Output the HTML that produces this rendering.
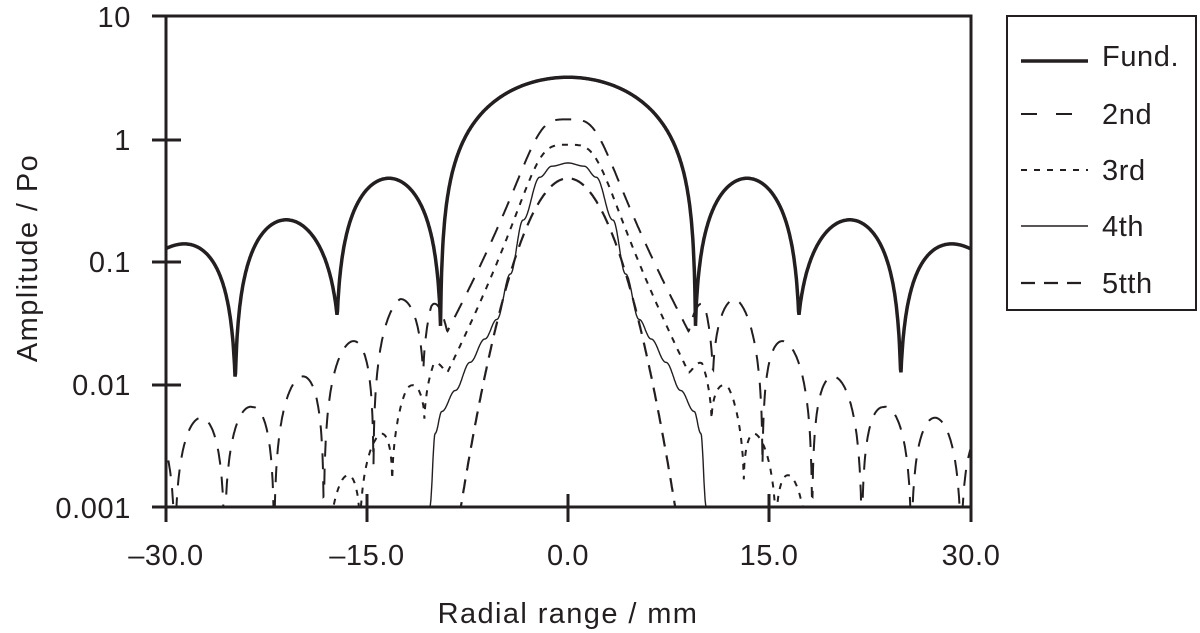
<!DOCTYPE html>
<html><head><meta charset="utf-8"><style>
html,body{margin:0;padding:0;background:#fff;overflow:hidden;width:1200px;height:633px;}
svg{display:block;font-family:"Liberation Sans",sans-serif;}
</style></head><body>
<svg id="s" width="1200" height="633" viewBox="0 0 1200 633" xmlns="http://www.w3.org/2000/svg">
<defs><clipPath id="c"><rect x="166" y="16" width="805" height="491"/></clipPath></defs>
<g stroke="#231f20" stroke-width="3" fill="none">
<path d="M152 16H971V507H166V16"/>
<path d="M152 140H181M152 262H181M152 385H181M152 507H181"/>
<path d="M166 494V522M367 494V522M568 494V522M769 494V522M971 494V522"/>
<rect x="1007" y="16" width="189" height="294" stroke-width="2"/>
<path d="M1021 61H1088" stroke-width="3.5"/>
<path d="M1021 114H1088" stroke-width="2" stroke-dasharray="16 19"/>
<path d="M1021 170H1088" stroke-width="2" stroke-dasharray="6 7"/>
<path d="M1021 226H1088" stroke-width="1.4"/>
<path d="M1021 283H1088" stroke-width="2.2" stroke-dasharray="14 9"/>
</g>
<g fill="#231f20" font-size="29" letter-spacing="0.6">
<text x="131" y="27" text-anchor="end">10</text>
<text x="131" y="150" text-anchor="end">1</text>
<text x="131" y="272" text-anchor="end">0.1</text>
<text x="131" y="395" text-anchor="end">0.01</text>
<text x="131" y="518" text-anchor="end">0.001</text>
<text x="166" y="565" text-anchor="middle">–30.0</text>
<text x="367" y="565" text-anchor="middle">–15.0</text>
<text x="568" y="565" text-anchor="middle">0.0</text>
<text x="769" y="565" text-anchor="middle">15.0</text>
<text x="971" y="565" text-anchor="middle">30.0</text>
<text x="568" y="623" text-anchor="middle" letter-spacing="1.4">Radial range / mm</text>
<text transform="translate(37,258) rotate(-90)" text-anchor="middle" letter-spacing="1.4">Amplitude / Po</text>
<g font-size="29">
<text x="1102" y="66">Fund.</text>
<text x="1102" y="124">2nd</text>
<text x="1102" y="180">3rd</text>
<text x="1102" y="236">4th</text>
<text x="1102" y="293">5tth</text>
</g>
</g>
<g id="curves" clip-path="url(#c)" fill="none" stroke="#231f20"></g>
</svg>
<script>
function X(x){return 568+x*805/60;}
function Y(a){return 507-(Math.log10(a)+3)*122.6;}
function interp(pts,x){if(x<=pts[0][0])return pts[0][1];for(var i=0;i<pts.length-1;i++){if(x<=pts[i+1][0]){var t=(x-pts[i][0])/(pts[i+1][0]-pts[i][0]);t=(1-Math.cos(Math.PI*t))/2;return pts[i][1]+t*(pts[i+1][1]-pts[i][1]);}}return pts[pts.length-1][1];}
function lin(pts,x){if(x<=pts[0][0])return pts[0][1];for(var i=0;i<pts.length-1;i++){if(x<=pts[i+1][0]){var t=(x-pts[i][0])/(pts[i+1][0]-pts[i][0]);return pts[i][1]+t*(pts[i+1][1]-pts[i][1]);}}return pts[pts.length-1][1];}
var nulls=[-32.4,-24.8,-17.2,-9.5,9.5,17.2,24.8,32.4];
var peaks=[0.14,0.22,0.48,3.2,0.48,0.22,0.14];
var depth={"-32.4":0.08,"-24.8":0.01,"-17.2":0.035,"-9.5":0.03,"9.5":0.03,"17.2":0.035,"24.8":0.011,"32.4":0.08};
function fund(x){for(var i=0;i<nulls.length-1;i++){var a=nulls[i],b=nulls[i+1];if(x>=a&&x<=b){var t=(x-a)/(b-a);var d0=depth[a],d1=depth[b];var d=d0+(d1-d0)*t;var s=Math.sin(Math.PI*t);return peaks[i]*Math.pow(s,0.95)+d*(1-s);}}return 0.1;}
function main(P,c,b,x){var ax=Math.abs(x);return P*Math.pow(10,-c*Math.pow(ax,4)/(Math.pow(ax,3)+b*b*b));}
var env2=[[10,-1.3],[12.5,-1.35],[16.5,-1.7],[20,-1.96],[23.5,-2.2],[27.5,-2.3],[31,-2.4]];
function h2(x){var ax=Math.abs(x);var m=main(1.45,0.2,3,x);var s=0;if(ax>9){var r=Math.min(1,(ax-9)/1.2);s=r*Math.pow(10,lin(env2,ax))*Math.pow(Math.abs(Math.sin(Math.PI*(ax-10.8)/3.7)),0.8);}return m+s+0.0003;}
var env3=[[9,-2.0],[12,-2.19],[14.4,-2.6],[16.8,-2.9],[19,-3.2],[22,-3.6]];
function h3(x){var ax=Math.abs(x);var m=main(0.9,0.215,3,x);var s=0;if(ax>9){var r=Math.min(1,(ax-9)/1);s=r*Math.pow(10,lin(env3,ax))*Math.pow(Math.abs(Math.sin(Math.PI*(ax-10.7)/2.4)),0.7);}return m+s+0.0002;}
var p4=[[0,-0.194],[1.2,-0.22],[2.1,-0.31],[3.35,-0.66],[4.3,-1.1],[5.3,-1.47],[6.2,-1.63],[7.3,-1.82],[8.4,-2.05],[9.4,-2.22],[9.9,-2.4],[10.3,-3],[10.7,-3.4]];
function h4(x){return Math.pow(10,interp(p4,Math.abs(x)));}
function h5(x){return 0.48*Math.pow(10,-0.042*x*x);}
function path(f){var d="";for(var x=-30.5;x<=30.5;x+=0.04){var a=Math.max(f(x),1e-5);d+=(d?"L":"M")+X(x).toFixed(1)+" "+Y(a).toFixed(1);}return d;}
var g=document.getElementById("curves");
var specs=[[h2,"2","16 12"],[h3,"2","6 7"],[h4,"1.4",""],[h5,"2.2","14 9"],[fund,"3.5",""]];
specs.forEach(function(s){var p=document.createElementNS("http://www.w3.org/2000/svg","path");p.setAttribute("d",path(s[0]));p.setAttribute("stroke-width",s[1]);if(s[2])p.setAttribute("stroke-dasharray",s[2]);g.appendChild(p);});
</script>
</body></html>
